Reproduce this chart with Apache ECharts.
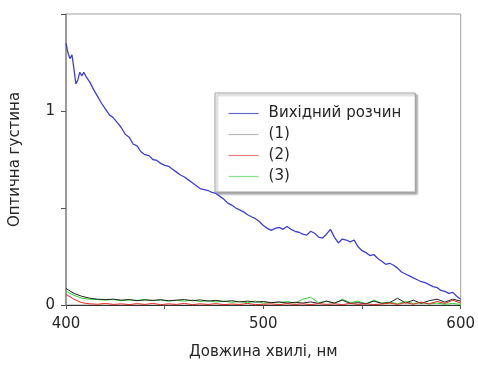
<!DOCTYPE html>
<html>
<head>
<meta charset="utf-8">
<script src="https://cdn.jsdelivr.net/npm/echarts@6/dist/echarts.min.js"></script>
<style>
  html, body { margin: 0; padding: 0; background: #fff; }
  #chart { width: 478px; height: 365px; }
</style>
</head>
<body>
<div id="chart"></div>
<script>
// Absorption spectra: source solution and three treated samples
const seriesNames = ['Вихідний розчин', '(1)', '(2)', '(3)'];

// Source solution, wavelength (nm) and optical density
const sourceWl = [400, 401, 402, 403, 404, 405, 406, 407, 408, 409, 410, 412, 414, 416, 418, 420,
  422, 424, 426, 428, 430, 432, 434, 436, 438, 440, 442, 444, 446, 448, 450, 452, 454, 456, 458,
  460, 462, 464, 466, 468, 470, 472, 474, 476, 478, 480, 482, 484, 486, 488, 490, 492, 494, 496,
  498, 500, 502, 504, 506, 508, 510, 512, 514, 516, 518, 520, 522, 524, 526, 528, 530, 532, 534,
  536, 538, 540, 542, 544, 546, 548, 550, 552, 554, 556, 558, 560, 562, 564, 566, 568, 570, 572,
  574, 576, 578, 580, 582, 584, 586, 588, 590, 592, 594, 596, 598, 600];
const sourceOD = [1.35, 1.30, 1.27, 1.29, 1.22, 1.14, 1.16, 1.20, 1.18, 1.20, 1.18, 1.15, 1.11, 1.075, 1.04, 1.01,
  0.98, 0.965, 0.94, 0.915, 0.88, 0.865, 0.83, 0.82, 0.79, 0.775, 0.77, 0.75, 0.745, 0.73, 0.72, 0.715, 0.70, 0.685, 0.67,
  0.66, 0.645, 0.63, 0.615, 0.60, 0.595, 0.59, 0.58, 0.575, 0.56, 0.545, 0.525, 0.515, 0.50, 0.49, 0.48, 0.465, 0.455, 0.445,
  0.43, 0.41, 0.395, 0.385, 0.395, 0.40, 0.39, 0.405, 0.39, 0.38, 0.375, 0.365, 0.36, 0.38, 0.37, 0.35, 0.345, 0.365, 0.39,
  0.35, 0.32, 0.34, 0.335, 0.325, 0.335, 0.30, 0.28, 0.27, 0.255, 0.26, 0.24, 0.225, 0.21, 0.215, 0.205, 0.19, 0.17, 0.16,
  0.15, 0.14, 0.13, 0.12, 0.115, 0.105, 0.095, 0.09, 0.075, 0.07, 0.06, 0.065, 0.045, 0.03];

// Treated samples share one wavelength grid, 4 nm step
const sampleWl = [400, 404, 408, 412, 416, 420, 424, 428, 432, 436, 440, 444, 448, 452, 456, 460, 464,
  468, 472, 476, 480, 484, 488, 492, 496, 500, 504, 508, 512, 516, 520, 524, 528, 532, 536, 540, 544,
  548, 552, 556, 560, 564, 568, 572, 576, 580, 584, 588, 592, 596, 600];
const sample1OD = [0.085, 0.06, 0.045, 0.035, 0.03, 0.028, 0.03, 0.025, 0.028, 0.022, 0.026, 0.024, 0.027, 0.022, 0.025, 0.028, 0.022,
  0.026, 0.02, 0.024, 0.018, 0.022, 0.016, 0.02, 0.015, 0.018, 0.012, 0.016, 0.01, 0.014, 0.01, 0.016, 0.008, 0.02, 0.01, 0.025, 0.008,
  0.012, 0.006, 0.02, 0.008, 0.012, 0.035, 0.01, 0.025, 0.008, 0.022, 0.03, 0.015, 0.03, 0.02];
const sample2OD = [0.055, 0.03, 0.012, 0.006, 0.004, 0.008, 0.003, 0.006, 0.002, 0.007, 0.003, 0.008, 0.002, 0.006, 0.003, 0.008, 0.002,
  0.006, 0.003, 0.007, 0.002, 0.005, 0.003, 0.008, 0.002, 0.004, 0.006, 0.002, 0.007, 0.003, 0.006, 0.002, 0.007, 0.003, 0.006, 0.002, 0.008,
  0.003, 0.006, 0.002, 0.005, 0.01, 0.003, 0.012, 0.004, 0.015, 0.006, 0.018, 0.008, 0.025, 0.01];
const sample3OD = [0.07, 0.05, 0.035, 0.03, 0.028, 0.025, 0.028, 0.022, 0.026, 0.024, 0.028, 0.022, 0.026, 0.02, 0.024, 0.02, 0.025,
  0.018, 0.022, 0.016, 0.02, 0.014, 0.018, 0.012, 0.02, 0.01, 0.014, 0.012, 0.018, 0.01, 0.03, 0.04, 0.012, 0.02, 0.008, 0.03, 0.012,
  0.02, 0.006, 0.025, 0.01, 0.015, 0.006, 0.018, 0.008, 0.012, 0.005, 0.01, 0.004, 0.008, 0.003];

const xTickLabels = [400, 500, 600];
const yTickLabels = [0, 1];

const seriesColors = ['#3f3fd2', '#222222', '#e02a22', '#2fd42f'];
const legendColors = ['#6a6acc', '#b8b8b8', '#f08080', '#88e088'];

const pairs = (xs, ys) => xs.map((x, i) => [x, ys[i]]);
const font = 'DejaVu Sans, Liberation Sans, Arial, sans-serif';
const textColor = '#262626';

const chart = echarts.init(document.getElementById('chart'), null, { renderer: 'canvas' });

function lineSeries(i, data, width, z) {
  const color = seriesColors[i];
  return {
    name: seriesNames[i], type: 'line', data, symbol: 'none', showSymbol: false, smooth: false, z,
    lineStyle: { color, width }, itemStyle: { color }, animation: false
  };
}

chart.setOption({
  animation: false,
  grid: { left: 66, right: 12, top: 14, bottom: 55, show: true, borderColor: '#a0a0a0', borderWidth: 1 },
  legend: {
    orient: 'vertical', left: 215, top: 93,
    data: seriesNames.map((name, i) => ({
      name,
      itemStyle: { opacity: 0, borderWidth: 0 },
      lineStyle: { color: legendColors[i], width: 1.2 }
    })),
    itemWidth: 30, itemHeight: 14, itemGap: 6,
    padding: [13, 14, 8, 13],
    backgroundColor: '#fff',
    borderColor: '#a0a0a0', borderWidth: 1,
    shadowColor: 'rgba(0,0,0,0.35)', shadowBlur: 2, shadowOffsetX: 2, shadowOffsetY: 2,
    textStyle: { fontFamily: font, fontSize: 15, color: textColor, padding: [0, 0, 0, 5] },
    selectedMode: false
  },
  xAxis: {
    type: 'value', min: 400, max: 600, interval: 50,
    name: 'Довжина хвилі, нм', nameLocation: 'middle', nameGap: 40,
    nameTextStyle: { fontFamily: font, fontSize: 15, color: textColor },
    axisLine: { onZero: false, lineStyle: { color: '#333', width: 1 } },
    axisTick: { show: true, inside: false, length: 4, lineStyle: { color: '#555' } },
    axisLabel: {
      fontFamily: font, fontSize: 15, color: textColor, margin: 12,
      formatter: v => (xTickLabels.includes(v) ? String(v) : '')
    },
    splitLine: { show: false }
  },
  yAxis: {
    type: 'value', min: 0, max: 1.5, interval: 0.5,
    name: 'Оптична густина', nameLocation: 'middle', nameGap: 43,
    nameTextStyle: { fontFamily: font, fontSize: 15, color: textColor },
    axisLine: { show: true, lineStyle: { color: '#8a8a8a', width: 1.5 } },
    axisTick: { show: true, inside: false, length: 5, lineStyle: { color: '#555' } },
    axisLabel: {
      fontFamily: font, fontSize: 15, color: textColor, margin: 11,
      formatter: v => (yTickLabels.includes(v) ? String(v) : '')
    },
    splitLine: { show: false }
  },
  series: [
    lineSeries(0, pairs(sourceWl, sourceOD), 1.3, 5),
    lineSeries(1, pairs(sampleWl, sample1OD), 1, 4),
    lineSeries(2, pairs(sampleWl, sample2OD), 1, 4),
    lineSeries(3, pairs(sampleWl, sample3OD), 1, 3)
  ]
});
</script>
</body>
</html>
